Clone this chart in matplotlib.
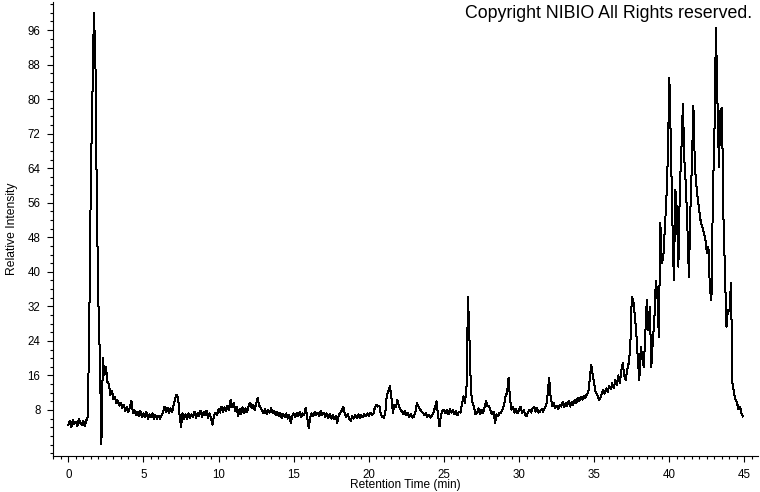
import matplotlib
matplotlib.use("Agg")
import matplotlib.pyplot as plt
import numpy as np
from matplotlib.ticker import MultipleLocator

# chromatogram, one row per minute (samples every 0.1 min)
step_min = 0.1
intensity = [
    4.5, 5.5, 4.0, 5.8, 4.8, 5.2, 4.3, 6.0, 5.0, 4.6,          # 0
    5.4, 4.2, 5.6, 6.5, 30, 62, 80, 100, 90, 55,               # 1
    33, 20, 0.0, 20, 16, 18, 14.5, 14, 11.5, 12.5,             # 2
    10.5, 11, 9.5, 10.2, 9, 9.6, 8.5, 9.2, 7.8, 8.6,           # 3
    7.5, 8.8, 10.2, 7.2, 8.0, 6.8, 7.6, 6.5, 7.8, 6.4,         # 4
    7.2, 6.3, 7.5, 6.0, 7.0, 6.4, 7.2, 6.0, 6.8, 5.9,          # 5
    6.7, 6.0, 6.8, 7.4, 8.8, 7.6, 8.5, 7.2, 8.4, 7.5,          # 6
    9.0, 10.5, 11.5, 11.0, 7.0, 4.0, 7.2, 5.8, 7.0, 6.0,       # 7
    7.2, 6.2, 7.0, 6.4, 7.6, 6.2, 7.3, 6.5, 7.8, 6.4,          # 8
    7.5, 6.8, 7.8, 6.2, 7.2, 6.0, 4.6, 6.8, 7.4, 6.8,          # 9
    8.2, 7.4, 8.8, 7.6, 8.6, 7.8, 9.0, 8.0, 10.4, 8.6,         # 10
    9.6, 7.8, 8.8, 6.5, 8.2, 7.0, 8.6, 7.2, 8.4, 7.6,          # 11
    9.0, 9.7, 8.4, 9.2, 8.0, 9.4, 10.8, 9.0, 8.6, 7.8,         # 12
    7.2, 8.2, 7.0, 8.0, 7.4, 8.4, 7.2, 7.8, 6.8, 7.6,          # 13
    6.6, 7.4, 6.2, 7.0, 6.4, 7.2, 6.0, 6.8, 5.0, 6.6,          # 14
    7.2, 6.4, 7.4, 6.6, 7.6, 6.4, 7.2, 6.8, 8.5, 6.2,          # 15
    3.9, 6.4, 7.2, 6.6, 7.6, 6.8, 7.4, 6.6, 7.8, 6.9,          # 16
    7.4, 6.4, 7.2, 6.2, 7.0, 6.0, 6.8, 5.8, 6.6, 5.0,          # 17
    6.8, 7.4, 7.8, 8.8, 7.0, 6.4, 7.0, 6.0, 5.4, 6.6,          # 18
    6.0, 6.8, 6.2, 7.0, 6.2, 6.8, 6.3, 7.0, 6.5, 7.2,          # 19
    6.6, 7.4, 6.9, 7.0, 8.6, 9.2, 8.8, 9.0, 7.0, 6.4,          # 20
    6.2, 7.6, 11.5, 12.3, 13.5, 11.0, 7.4, 9.2, 8.6, 10.4,     # 21
    9.0, 8.1, 7.6, 7.0, 7.8, 6.8, 7.2, 6.4, 7.0, 6.2,          # 22
    6.5, 7.6, 9.7, 8.8, 8.2, 7.6, 7.4, 6.8, 7.2, 6.4,          # 23
    6.8, 6.2, 6.8, 7.4, 8.6, 10.0, 7.0, 4.2, 6.8, 7.8,         # 24
    8.1, 7.2, 8.0, 7.0, 8.2, 7.4, 8.0, 7.0, 7.8, 6.8,          # 25
    7.6, 7.4, 9.4, 11.2, 9.7, 13.5, 34.2, 24.0, 12.0, 9.7,     # 26
    8.6, 7.0, 7.4, 8.4, 7.0, 8.0, 7.2, 8.6, 10.0, 8.8,         # 27
    9.0, 7.8, 7.0, 7.6, 5.0, 7.0, 6.6, 7.4, 7.4, 8.2,          # 28
    9.2, 11.2, 12.0, 15.4, 10.4, 8.1, 8.8, 7.4, 8.2, 7.2,      # 29
    8.0, 8.8, 7.4, 8.0, 7.0, 6.5, 7.6, 8.0, 7.4, 8.4,          # 30
    8.8, 7.6, 8.4, 7.4, 7.7, 8.2, 7.6, 8.4, 9.0, 11.5,         # 31
    15.5, 11.0, 9.0, 9.6, 8.4, 9.0, 8.2, 9.2, 8.8, 9.8,        # 32
    8.6, 9.6, 9.0, 10.2, 8.8, 9.8, 9.2, 10.4, 9.6, 10.8,       # 33
    10.0, 11.0, 10.4, 11.2, 10.8, 11.6, 12.0, 15.0, 18.5, 16.0,  # 34
    14.0, 12.0, 11.5, 10.4, 10.6, 11.8, 12.7, 11.8, 13.0, 12.2,  # 35
    13.6, 12.8, 14.2, 13.0, 15.0, 13.8, 16.0, 14.2, 17.0, 18.9,  # 36
    16.0, 15.0, 17.5, 18.9, 22.7, 34.2, 33.5, 30.0, 25.9, 20.0,  # 37
    15.0, 22.7, 20.0, 18.0, 26.0, 33.5, 26.6, 31.9, 18.0, 24.0,  # 38
    28.9, 38.0, 35.0, 25.0, 51.3, 42.0, 43.5, 50.0, 56.6, 66.6,  # 39
    85.0, 69.7, 52.0, 38.0, 59.0, 54.3, 41.2, 59.7, 68.0, 79.0,  # 40
    65.8, 60.0, 50.4, 38.9, 54.3, 65.0, 78.5, 64.3, 60.0, 56.6,  # 41
    54.0, 51.3, 50.4, 49.0, 47.5, 44.3, 45.8, 35.8, 33.5, 58.2,  # 42
    72.0, 96.6, 79.7, 64.3, 77.4, 78.0, 52.7, 39.7, 27.3, 31.2,  # 43
    31.0, 37.4, 14.3, 12.0, 10.5, 9.7, 8.2, 8.8, 7.2, 6.5,       # 44
]
retention = np.arange(len(intensity)) * step_min

y_ticks = [8, 16, 24, 32, 40, 48, 56, 64, 72, 80, 88, 96]
x_ticks = [0, 5, 10, 15, 20, 25, 30, 35, 40, 45]

plt.rcParams['font.family'] = ['Liberation Sans', 'DejaVu Sans']

fig = plt.figure(figsize=(7.6, 4.92), dpi=100)
ax = fig.add_axes([53 / 760, 36 / 492, 705 / 760, 454 / 492])

ax.plot(retention, intensity, color='black', linewidth=0.72, antialiased=False)

ax.set_xlim(-1.02, 45.9)
ax.set_ylim(-2.66, 102.5)

ax.set_xticks(x_ticks)
ax.set_yticks(y_ticks)
ax.xaxis.set_minor_locator(MultipleLocator(0.5))
ax.yaxis.set_minor_locator(MultipleLocator(2))
ax.tick_params(which='major', length=4, width=0.8, labelsize=8.3, pad=5)
ax.tick_params(which='minor', length=2.2, width=0.8)

for side in ['top', 'right']:
    ax.spines[side].set_visible(False)
ax.spines['left'].set_linewidth(0.8)
ax.spines['bottom'].set_linewidth(0.8)

ax.set_xlabel('Retention Time (min)', fontsize=8.6, labelpad=-1)
ax.set_ylabel('Relative Intensity', fontsize=8.7, labelpad=7)

fig.text(752 / 760, 1 - 14 / 492, 'Copyright NIBIO All Rights reserved.',
         ha='right', va='center', fontsize=12.8)

fig.savefig('out.png', dpi=100)
